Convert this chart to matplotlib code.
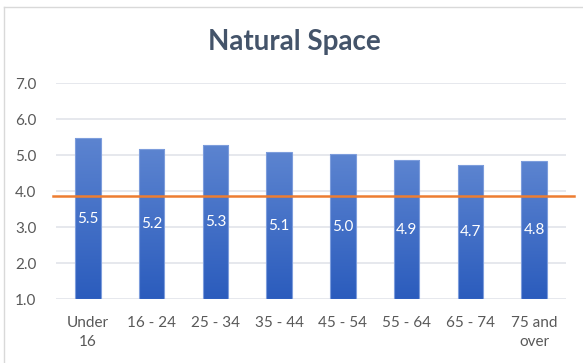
import numpy as np
import matplotlib.pyplot as plt
from matplotlib.colors import LinearSegmentedColormap
from matplotlib.lines import Line2D

categories = ["Under\n16", "16 - 24", "25 - 34", "35 - 44", "45 - 54", "55 - 64", "65 - 74", "75 and\nover"]
values = [5.47, 5.17, 5.28, 5.08, 5.03, 4.86, 4.72, 4.83]
reference_level = 3.86
yticks = [1.0, 2.0, 3.0, 4.0, 5.0, 6.0, 7.0]

plt.rcParams['font.family'] = ['Lato', 'DejaVu Sans']

fig = plt.figure(figsize=(5.83, 3.63), dpi=100)
ax = fig.add_axes([0.096, 0.176, 0.875, 0.595])

x = np.arange(len(categories))
bars = ax.bar(x, [v - 1.0 for v in values], bottom=1.0, width=0.40,
              color='none', edgecolor='#7D9DDC', linewidth=0.8, zorder=3)

# vertical gradient inside each bar, clipped to the bar shape
cmap = LinearSegmentedColormap.from_list('bar_grad', ['#2B5CBD', '#5C84D0'])
grad = np.linspace(0, 1, 256).reshape(-1, 1)
for rect, v in zip(bars, values):
    x0 = rect.get_x()
    im = ax.imshow(grad, cmap=cmap, origin='lower', aspect='auto',
                   extent=[x0, x0 + rect.get_width(), 1.0, v], zorder=2)
    im.set_clip_path(rect)

ax.set_xlim(-0.5, len(categories) - 0.5)
ax.set_ylim(1.0, 7.0)

for xi, v in zip(x, values):
    ax.text(xi, (1.0 + v) / 2, f"{v:.1f}", ha='center', va='center',
            color='white', fontsize=11, zorder=4)

ax.set_yticks(yticks)
ax.set_yticklabels([f"{t:.1f}" for t in yticks])
ax.set_xticks(x)
ax.set_xticklabels(categories, linespacing=1.5)
ax.tick_params(axis='both', length=0, colors='#595959', labelsize=11)
ax.tick_params(axis='y', pad=14)
ax.tick_params(axis='x', pad=12)
ax.yaxis.grid(True, color='#E1E4EA', linewidth=1.2, zorder=0)
ax.set_axisbelow(True)
for s in ax.spines.values():
    s.set_visible(False)

# orange reference line, a little wider than the plot area
ax.plot([-0.55, len(categories) - 0.37], [reference_level, reference_level],
        color='#ED7D31', linewidth=1.8, zorder=5, clip_on=False)

fig.text(0.505, 0.883, "Natural Space", ha='center', va='center',
         fontsize=20, fontweight='bold', color='#44546A')

# chart border (cropped on the right and bottom)
fig.add_artist(Line2D([0.007, 0.007], [0.0, 0.981], color='#D9D9D9', linewidth=1))
fig.add_artist(Line2D([0.007, 1.0], [0.981, 0.981], color='#D9D9D9', linewidth=1))

fig.savefig('out.png', dpi=100)
